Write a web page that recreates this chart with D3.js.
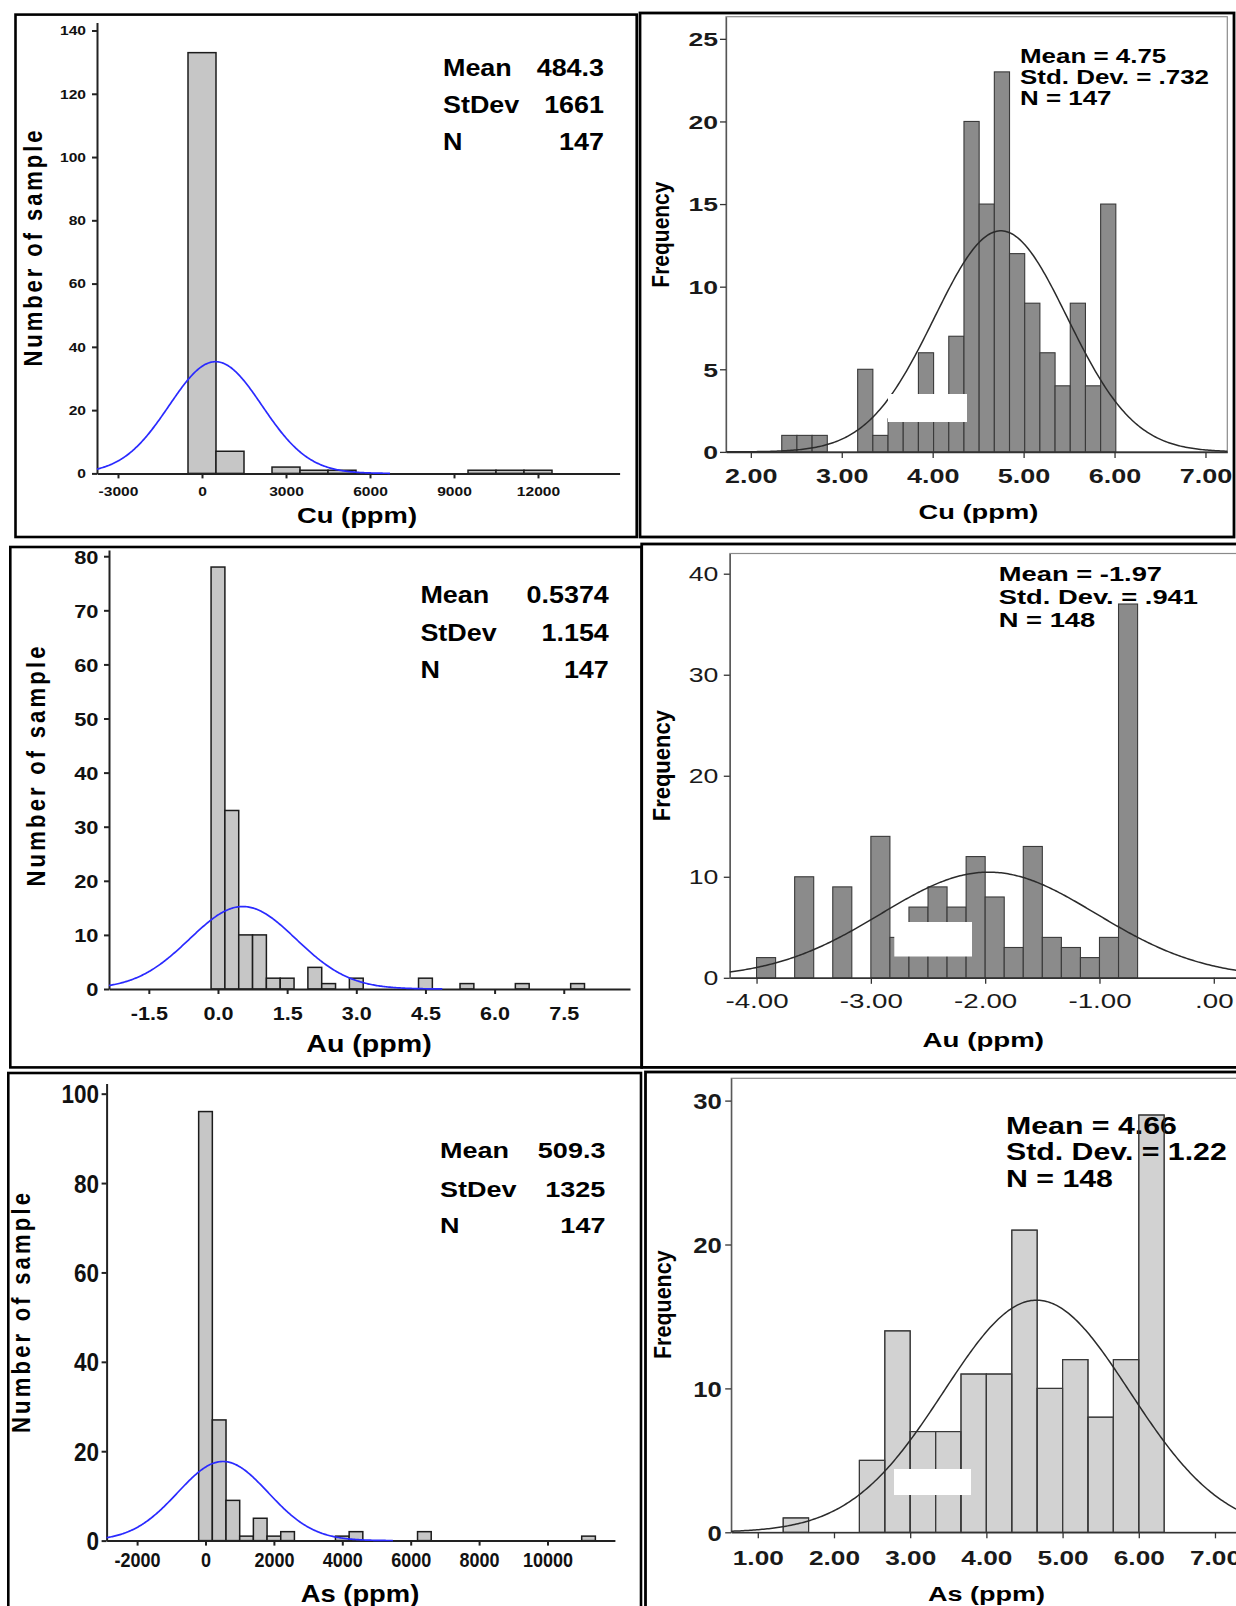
<!DOCTYPE html>
<html><head><meta charset="utf-8">
<script src="https://cdn.jsdelivr.net/npm/d3@7"></script>
<style>body{margin:0;background:#fff;} svg{display:block;}</style>
</head><body>
<svg id="c" width="1236" height="1606"></svg>
<script>
// ---------------- DATA ----------------
// Cu raw (left, top)
const cuRawCenters = [0, 1000, 3000, 4000, 5000, 10000, 11000, 12000];
const cuRawCounts  = [133, 7, 2, 1, 1, 1, 1, 1];
const cuRawBinWidth = 1000;
const cuRawMean = 484.3, cuRawSd = 1661, cuRawN = 147;
const cuRawXTicks = [-3000, 0, 3000, 6000, 9000, 12000];
const cuRawYTicks = [0, 20, 40, 60, 80, 100, 120, 140];
const cuRawStatLabels = ["Mean", "StDev", "N"];
const cuRawStatValues = ["484.3", "1661", "147"];

// Cu log (right, top)
const cuLogBinStart = 2.34, cuLogBinWidth = 0.167;
const cuLogCounts = [1, 1, 1, 0, 0, 5, 1, 2, 3, 6, 3, 7, 20, 15, 23, 12, 9, 6, 4, 9, 4, 15];
const cuLogMean = 4.75, cuLogSd = 0.732, cuLogN = 147;
const cuLogXTicks = [2, 3, 4, 5, 6, 7];
const cuLogYTicks = [0, 5, 10, 15, 20, 25];
const cuLogStats = ["Mean = 4.75", "Std. Dev. = .732", "N = 147"];

// Au raw (left, middle)
const auRawCenters = [0, 0.3, 0.6, 0.9, 1.2, 1.5, 2.1, 2.4, 3.0, 4.5, 5.4, 6.6, 7.8];
const auRawCounts  = [78, 33, 10, 10, 2, 2, 4, 1, 2, 2, 1, 1, 1];
const auRawBinWidth = 0.3;
const auRawMean = 0.5374, auRawSd = 1.154, auRawN = 147;
const auRawXTicks = [-1.5, 0, 1.5, 3.0, 4.5, 6.0, 7.5];
const auRawYTicks = [0, 10, 20, 30, 40, 50, 60, 70, 80];
const auRawStatLabels = ["Mean", "StDev", "N"];
const auRawStatValues = ["0.5374", "1.154", "147"];

// Au log (right, middle)
const auLogBinStart = -4.0, auLogBinWidth = 1/6;
const auLogCounts = [2, 0, 10, 0, 9, 0, 14, 4, 7, 9, 7, 12, 8, 3, 13, 4, 3, 2, 4, 37];
const auLogMean = -1.97, auLogSd = 0.941, auLogN = 148;
const auLogXTicks = [-4, -3, -2, -1, 0];
const auLogYTicks = [0, 10, 20, 30, 40];
const auLogStats = ["Mean = -1.97", "Std. Dev. = .941", "N = 148"];

// As raw (left, bottom)
const asRawCenters = [0, 400, 800, 1200, 1600, 2000, 2400, 4000, 4400, 6400, 11200];
const asRawCounts  = [96, 27, 9, 1, 5, 1, 2, 1, 2, 2, 1];
const asRawBinWidth = 400;
const asRawMean = 509.3, asRawSd = 1325, asRawN = 147;
const asRawXTicks = [-2000, 0, 2000, 4000, 6000, 8000, 10000];
const asRawYTicks = [0, 20, 40, 60, 80, 100];
const asRawStatLabels = ["Mean", "StDev", "N"];
const asRawStatValues = ["509.3", "1325", "147"];

// As log (right, bottom)
const asLogBinStart = 4/3, asLogBinWidth = 1/3;
const asLogCounts = [1, 0, 0, 5, 14, 7, 7, 11, 11, 21, 10, 12, 8, 12, 29];
const asLogMean = 4.66, asLogSd = 1.22, asLogN = 148;
const asLogXTicks = [1, 2, 3, 4, 5, 6, 7];
const asLogYTicks = [0, 10, 20, 30];
const asLogStats = ["Mean = 4.66", "Std. Dev. = 1.22", "N = 148"];

// ---------------- DRAWING ----------------
const FONT = "'Liberation Sans', Arial, Helvetica, sans-serif";
const svg = d3.select("#c");

function T(g, x, y, s, o) {
  const t = g.append("text")
    .attr("transform", `translate(${x},${y}) scale(${o.sx || 1},1)${o.rot ? ` rotate(${o.rot})` : ""}`)
    .attr("text-anchor", o.anchor || "start")
    .attr("font-family", FONT).attr("font-size", o.size)
    .attr("font-weight", o.weight || "bold")
    .attr("fill", o.fill || "#000").text(s);
  if (o.len) t.attr("textLength", o.len).attr("lengthAdjust", o.adj || "spacingAndGlyphs");
  return t;
}

function normalPts(mean, sd, n, bw, lo, hi) {
  const k = n * bw / (sd * Math.sqrt(2 * Math.PI));
  return d3.range(0, 301).map(i => {
    const v = lo + (hi - lo) * i / 300;
    return [v, k * Math.exp(-0.5 * ((v - mean) / sd) ** 2)];
  });
}

function styleTicks(sel, o) {
  sel.selectAll(".tick text")
    .attr("x", null).attr("y", null).attr("dy", null)
    .attr("font-family", FONT).attr("font-size", o.size)
    .attr("font-weight", o.weight || "bold").attr("fill", o.fill || "#111")
    .attr("text-anchor", o.anchor)
    .attr("transform", o.tf);
}

function drawRaw(o) {
  const g = svg.append("g");
  g.append("rect").attr("x", o.box[0]).attr("y", o.box[1])
    .attr("width", o.box[2] - o.box[0]).attr("height", o.box[3] - o.box[1])
    .attr("fill", "none").attr("stroke", "#000").attr("stroke-width", 2.6);
  const x = d3.scaleLinear().domain(o.xDomain).range(o.xRange);
  const y = d3.scaleLinear().domain(o.yDomain).range(o.yRange);

  const bars = o.centers.map((c, i) => ({ c, n: o.counts[i] }));
  g.selectAll(null).data(bars).join("rect")
    .attr("x", d => x(d.c - o.bw / 2))
    .attr("width", d => x(d.c + o.bw / 2) - x(d.c - o.bw / 2))
    .attr("y", d => y(d.n)).attr("height", d => y(0) - y(d.n))
    .attr("fill", "#c6c6c6").attr("stroke", "#1c1c1c").attr("stroke-width", 1.5);

  const ax = g.append("g").attr("transform", `translate(0,${o.yRange[0]})`)
    .call(d3.axisBottom(x).tickValues(o.xTicks).tickSize(5).tickSizeOuter(0).tickFormat(o.xFmt));
  ax.select(".domain").attr("stroke", "#222").attr("stroke-width", 2);
  ax.selectAll(".tick line").attr("stroke", "#222").attr("stroke-width", 2);
  styleTicks(ax, { size: o.xtSize, anchor: "middle", tf: `translate(0,${o.xtOff}) scale(${o.xtSx},1)` });

  const ay = g.append("g").attr("transform", `translate(${o.xRange[0]},0)`)
    .call(d3.axisLeft(y).tickValues(o.yTicks).tickSize(5).tickSizeOuter(0));
  ay.select(".domain").attr("stroke", "#222").attr("stroke-width", 2);
  ay.selectAll(".tick line").attr("stroke", "#222").attr("stroke-width", 2);
  styleTicks(ay, { size: o.ytSize, anchor: "end", tf: `translate(${-o.ytGap},${o.ytOff}) scale(${o.ytSx},1)` });

  const lo = Math.max(o.xDomain[0], o.mean - 3.75 * o.sd), hi = o.mean + 3.75 * o.sd;
  g.append("path").datum(normalPts(o.mean, o.sd, o.n, o.bw, lo, hi))
    .attr("d", d3.line().x(d => x(d[0])).y(d => y(d[1])))
    .attr("fill", "none").attr("stroke", "#2a2aff").attr("stroke-width", 1.7);

  o.statLabels.forEach((s, i) => {
    T(g, o.statX, o.statY[i], s, { size: o.statSize, sx: o.statSx });
    T(g, o.valX, o.statY[i], o.statValues[i], { size: o.statSize, sx: o.statSx, anchor: "end" });
  });
  T(g, o.yTitle[0], o.yTitle[1], "Number of sample", { size: 22, sx: 1.15, rot: -90, anchor: "middle", len: o.yTitle[2], adj: "spacing" });
  T(g, o.xTitle[0], o.xTitle[1], o.xTitleText, { size: o.xTitle[3], anchor: "middle", len: o.xTitle[2] });
}

function drawLog(o) {
  const g = svg.append("g");
  const x = d3.scaleLinear().domain(o.xDomain).range([o.frame[0], o.frame[2]]);
  const y = d3.scaleLinear().domain(o.yDomain).range([o.frame[3], o.frame[1]]);
  g.append("rect").attr("x", o.box[0]).attr("y", o.box[1])
    .attr("width", o.box[2] - o.box[0]).attr("height", o.box[3] - o.box[1])
    .attr("fill", "none").attr("stroke", "#000").attr("stroke-width", 2.8);
  g.append("rect").attr("x", o.frame[0]).attr("y", o.frame[1])
    .attr("width", o.frame[2] - o.frame[0]).attr("height", o.frame[3] - o.frame[1])
    .attr("fill", "none").attr("stroke", "#8a8a8a").attr("stroke-width", 1.2);

  const drawStats = () => {
    const sg = g.append("g");
    o.stats.forEach((s, i) => T(sg, o.statX, o.statY[i], s, { size: o.statSize, sx: o.statSx }));
  };
  if (o.statsUnder) drawStats();

  const bars = o.counts.map((n, i) => ({ a: o.binStart + i * o.bw, b: o.binStart + (i + 1) * o.bw, n }))
    .filter(d => d.n > 0);
  g.selectAll(null).data(bars).join("rect")
    .attr("x", d => x(d.a)).attr("width", d => x(d.b) - x(d.a))
    .attr("y", d => y(d.n)).attr("height", d => y(0) - y(d.n))
    .attr("fill", o.barFill).attr("stroke", "#3a3a3a").attr("stroke-width", 1.1);

  if (!o.statsUnder) {
    drawStats();
    g.append("g").selectAll(null).data(bars).join("rect")
      .attr("x", d => x(d.a)).attr("width", d => x(d.b) - x(d.a))
      .attr("y", d => y(d.n)).attr("height", d => y(0) - y(d.n))
      .attr("fill", "none").attr("stroke", "#3a3a3a").attr("stroke-width", 1.1);
  }

  const ax = g.append("g").attr("transform", `translate(0,${o.frame[3]})`)
    .call(d3.axisBottom(x).tickValues(o.xTicks).tickSize(6).tickSizeOuter(0).tickFormat(o.xFmt));
  ax.select(".domain").attr("stroke", "#333").attr("stroke-width", 1.6);
  ax.selectAll(".tick line").attr("stroke", "#333").attr("stroke-width", 1.3);
  styleTicks(ax, { size: o.xtSize, weight: o.tickWeight, fill: "#1a1a1a", anchor: "middle", tf: `translate(0,${o.xtOff}) scale(${o.xtSx},1)` });

  const ay = g.append("g").attr("transform", `translate(${o.frame[0]},0)`)
    .call(d3.axisLeft(y).tickValues(o.yTicks).tickSize(6).tickSizeOuter(0));
  ay.select(".domain").attr("stroke", "#555").attr("stroke-width", 1.3);
  ay.selectAll(".tick line").attr("stroke", "#333").attr("stroke-width", 1.3);
  styleTicks(ay, { size: o.ytSize, weight: o.tickWeight, fill: "#1a1a1a", anchor: "end", tf: `translate(${-o.ytGap},${o.ytOff}) scale(${o.ytSx},1)` });

  g.append("path").datum(normalPts(o.mean, o.sd, o.n, o.bw, o.xDomain[0], o.xDomain[1]))
    .attr("d", d3.line().x(d => x(d[0])).y(d => y(d[1])))
    .attr("fill", "none").attr("stroke", "#2b2b2b").attr("stroke-width", 1.5);

  g.append("rect").attr("x", o.wbox[0]).attr("y", o.wbox[1])
    .attr("width", o.wbox[2] - o.wbox[0]).attr("height", o.wbox[3] - o.wbox[1]).attr("fill", "#fff");

  T(g, o.yTitle[0], o.yTitle[1], "Frequency", { size: o.yTitle[2], sx: 1.12, rot: -90, anchor: "middle" });
  T(g, o.xTitle[0], o.xTitle[1], o.xTitleText, { size: o.xTitle[2], anchor: "middle", sx: o.xTitle[3] });
}

const fmtInt = v => String(v);
const fmt1 = v => v.toFixed(1);
const fmt2 = v => v === 0 ? ".00" : v.toFixed(2);

// Panel: Cu raw
drawRaw({
  box: [15.5, 14.6, 636.7, 537],
  xDomain: [-3750, 14914], xRange: [97, 619.6],
  yDomain: [0, 142.5], yRange: [473.4, 22.6],
  centers: cuRawCenters, counts: cuRawCounts, bw: cuRawBinWidth,
  mean: cuRawMean, sd: cuRawSd, n: cuRawN,
  xTicks: cuRawXTicks, yTicks: cuRawYTicks, xFmt: fmtInt,
  xtSize: 12, xtSx: 1.3, xtOff: 22.6, ytSize: 12, ytSx: 1.3, ytGap: 11, ytOff: 4.3,
  statLabels: cuRawStatLabels, statValues: cuRawStatValues,
  statX: 443, valX: 604, statY: [76, 113, 150], statSize: 23, statSx: 1.17,
  yTitle: [42, 248.5, 236], xTitle: [357, 523, 120, 21.5], xTitleText: "Cu (ppm)"
});

// Panel: Cu log
drawLog({
  box: [640, 13, 1234, 537], frame: [726, 16.7, 1227.3, 451.9],
  xDomain: [1.727, 7.24], yDomain: [0, 26.34],
  binStart: cuLogBinStart, bw: cuLogBinWidth, counts: cuLogCounts,
  mean: cuLogMean, sd: cuLogSd, n: cuLogN,
  xTicks: cuLogXTicks, yTicks: cuLogYTicks, xFmt: fmt2, tickWeight: "bold",
  xtSize: 20, xtSx: 1.35, xtOff: 31, ytSize: 19, ytSx: 1.4, ytGap: 8, ytOff: 6.8,
  stats: cuLogStats, statX: 1020, statY: [62.5, 83.5, 104.5], statSize: 19.5, statSx: 1.33,
  barFill: "#8b8b8b", statsUnder: true,
  wbox: [888, 394, 967, 422],
  yTitle: [669, 234.6, 21], xTitle: [978.4, 519, 19.5, 1.4], xTitleText: "Cu (ppm)"
});

// Panel: Au raw
drawRaw({
  box: [10.3, 547, 641.7, 1067.4],
  xDomain: [-2.364, 8.937], xRange: [109, 630],
  yDomain: [0, 81.15], yRange: [989, 550],
  centers: auRawCenters, counts: auRawCounts, bw: auRawBinWidth,
  mean: auRawMean, sd: auRawSd, n: auRawN,
  xTicks: auRawXTicks, yTicks: auRawYTicks, xFmt: fmt1,
  xtSize: 18.6, xtSx: 1.16, xtOff: 31, ytSize: 19, ytSx: 1.15, ytGap: 10.5, ytOff: 6.8,
  statLabels: auRawStatLabels, statValues: auRawStatValues,
  statX: 420.4, valX: 608.8, statY: [603.2, 640.7, 678], statSize: 23, statSx: 1.17,
  yTitle: [45, 766.5, 240], xTitle: [369, 1052, 125.5, 23], xTitleText: "Au (ppm)"
});

// Panel: Au log
drawLog({
  box: [641.7, 544, 1245, 1067.4], frame: [729.8, 553.5, 1245, 977.8],
  xDomain: [-4.234, 0.273], yDomain: [0, 42.0],
  binStart: auLogBinStart, bw: auLogBinWidth, counts: auLogCounts,
  mean: auLogMean, sd: auLogSd, n: auLogN,
  xTicks: auLogXTicks, yTicks: auLogYTicks, xFmt: fmt2, tickWeight: "normal",
  xtSize: 21, xtSx: 1.32, xtOff: 30.2, ytSize: 20.5, ytSx: 1.3, ytGap: 11.5, ytOff: 7,
  stats: auLogStats, statX: 998.8, statY: [581.2, 604.2, 626.9], statSize: 19.8, statSx: 1.38,
  barFill: "#8b8b8b", statsUnder: true,
  wbox: [894.3, 922, 972, 956.5],
  yTitle: [670, 765.7, 22], xTitle: [983.3, 1047, 19.5, 1.42], xTitleText: "Au (ppm)"
});

// Panel: As raw
drawRaw({
  box: [8.3, 1073, 641, 1612],
  xDomain: [-2892, 11971], xRange: [106.6, 614.9],
  yDomain: [0, 102.3], yRange: [1540.6, 1083.4],
  centers: asRawCenters, counts: asRawCounts, bw: asRawBinWidth,
  mean: asRawMean, sd: asRawSd, n: asRawN,
  xTicks: asRawXTicks, yTicks: asRawYTicks, xFmt: fmtInt,
  xtSize: 20, xtSx: 0.9, xtOff: 26, ytSize: 25, ytSx: 0.9, ytGap: 7.5, ytOff: 9,
  statLabels: asRawStatLabels, statValues: asRawStatValues,
  statX: 440, valX: 605.4, statY: [1158, 1196.7, 1233.4], statSize: 22.5, statSx: 1.2,
  yTitle: [30, 1313, 240], xTitle: [360, 1602, 118.6, 23], xTitleText: "As (ppm)"
});

// Panel: As log
drawLog({
  box: [645.5, 1072, 1245, 1612], frame: [731.2, 1078.3, 1245, 1532.3],
  xDomain: [0.651, 7.394], yDomain: [0, 31.55],
  binStart: asLogBinStart, bw: asLogBinWidth, counts: asLogCounts,
  mean: asLogMean, sd: asLogSd, n: asLogN,
  xTicks: asLogXTicks, yTicks: asLogYTicks, xFmt: fmt2, tickWeight: "bold",
  xtSize: 21, xtSx: 1.25, xtOff: 32.7, ytSize: 21.4, ytSx: 1.2, ytGap: 9.5, ytOff: 7.7,
  stats: asLogStats, statX: 1006, statY: [1133.5, 1160, 1186.5], statSize: 23.3, statSx: 1.3,
  barFill: "#d2d2d2", statsUnder: false,
  wbox: [894, 1469, 971, 1495],
  yTitle: [671, 1304.7, 21.5], xTitle: [986.5, 1600.7, 20.5, 1.32], xTitleText: "As (ppm)"
});
</script>
</body></html>
